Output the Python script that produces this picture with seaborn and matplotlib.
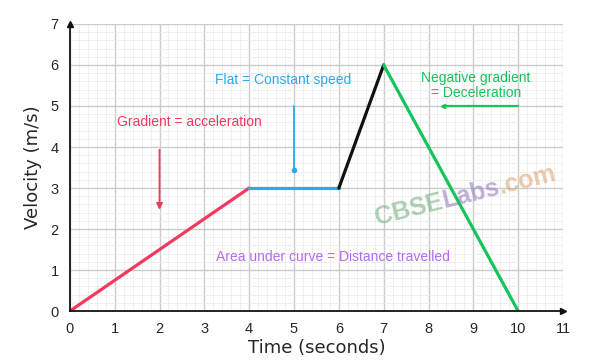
import numpy as np
import pandas as pd
import matplotlib
matplotlib.use("Agg")
import matplotlib.pyplot as plt
from matplotlib.ticker import MultipleLocator
import seaborn as sns

# data
time_s = [0, 4, 6, 7, 10]
velocity = [0, 3, 3, 6, 0]
seg_colors = ['#f2395f', '#2ea8ea', '#111111', '#14c45c']
x_ticks = list(range(0, 12))
y_ticks = list(range(0, 8))

sns.set_style("white")
plt.rcParams['font.family'] = ['Liberation Sans', 'DejaVu Sans']

fig = plt.figure(figsize=(5.92, 3.63), dpi=100)
ax = fig.add_axes([0.118, 0.143, 0.833, 0.791])

# graph paper grid
ax.xaxis.set_minor_locator(MultipleLocator(0.2))
ax.yaxis.set_minor_locator(MultipleLocator(0.2))
ax.grid(which='major', color='#cccccc', lw=1.0)
ax.grid(which='minor', color='#ececec', lw=0.6)
ax.set_axisbelow(True)

# segments
for i in range(len(time_s) - 1):
    seg = pd.DataFrame({'t': time_s[i:i + 2], 'v': velocity[i:i + 2]})
    sns.lineplot(data=seg, x='t', y='v', color=seg_colors[i], lw=2.3, ax=ax)

ax.set_xlim(0, 11)
ax.set_ylim(0, 7)
ax.set_xticks(x_ticks)
ax.set_yticks(y_ticks)
ax.tick_params(axis='both', which='major', labelsize=10.5, length=4, color='#888888', pad=4)
ax.tick_params(which='minor', length=0)

for s in ['top', 'right']:
    ax.spines[s].set_visible(False)
for s in ['left', 'bottom']:
    ax.spines[s].set_color('#111111')
    ax.spines[s].set_linewidth(1.3)
ax.plot(1, 0, '>', color='#111111', ms=5, transform=ax.get_yaxis_transform(), clip_on=False)
ax.plot(0, 1, '^', color='#111111', ms=5, transform=ax.get_xaxis_transform(), clip_on=False)

ax.set_xlabel('Time (seconds)', fontsize=13, labelpad=2, family='DejaVu Sans')
ax.set_ylabel('Velocity (m/s)', fontsize=13, labelpad=6, family='DejaVu Sans')

# annotations
ax.text(2.66, 4.6, 'Gradient = acceleration', color='#f2395f', fontsize=10, ha='center', va='center')
ax.annotate('', xy=(2, 2.4), xytext=(2, 4),
            arrowprops=dict(arrowstyle='-|>', color='#f2395f', lw=1.3, mutation_scale=9))
ax.text(4.75, 5.63, 'Flat = Constant speed', color='#2ea8ea', fontsize=10, ha='center', va='center')
ax.plot([5, 5], [5, 3.45], color='#2ea8ea', lw=1.3)
ax.plot(5, 3.45, 'o', color='#2ea8ea', ms=3)
ax.text(9.06, 5.5, 'Negative gradient\n= Deceleration', color='#14c45c', fontsize=10,
        ha='center', va='center', linespacing=1.05)
ax.plot([10, 8.33], [5, 5], color='#14c45c', lw=1.6)
ax.plot(8.33, 5, '<', color='#14c45c', ms=3)
ax.text(5.87, 1.32, 'Area under curve = Distance travelled', color='#b36bf5', fontsize=10,
        ha='center', va='center')

# watermark, pieces laid one after another along a tilted baseline
wm = [('CBSE', '#6fa97a'), ('Labs', '#8c72b8'), ('.com', '#d9a066')]
ang = np.radians(14)
off = 0.0
fig.canvas.draw()
rend = fig.canvas.get_renderer()
for txt, col in wm:
    t = ax.annotate(txt, xy=(6.85, 2.1), xytext=(off * np.cos(ang), off * np.sin(ang)),
                    textcoords='offset points', color=col, alpha=0.55, fontsize=18,
                    fontweight='bold', ha='left', va='baseline')
    w = t.get_window_extent(rend).width * 72 / fig.dpi
    t.set_rotation(14)
    t.set_rotation_mode('anchor')
    off += w

fig.savefig('out.png', dpi=100)
